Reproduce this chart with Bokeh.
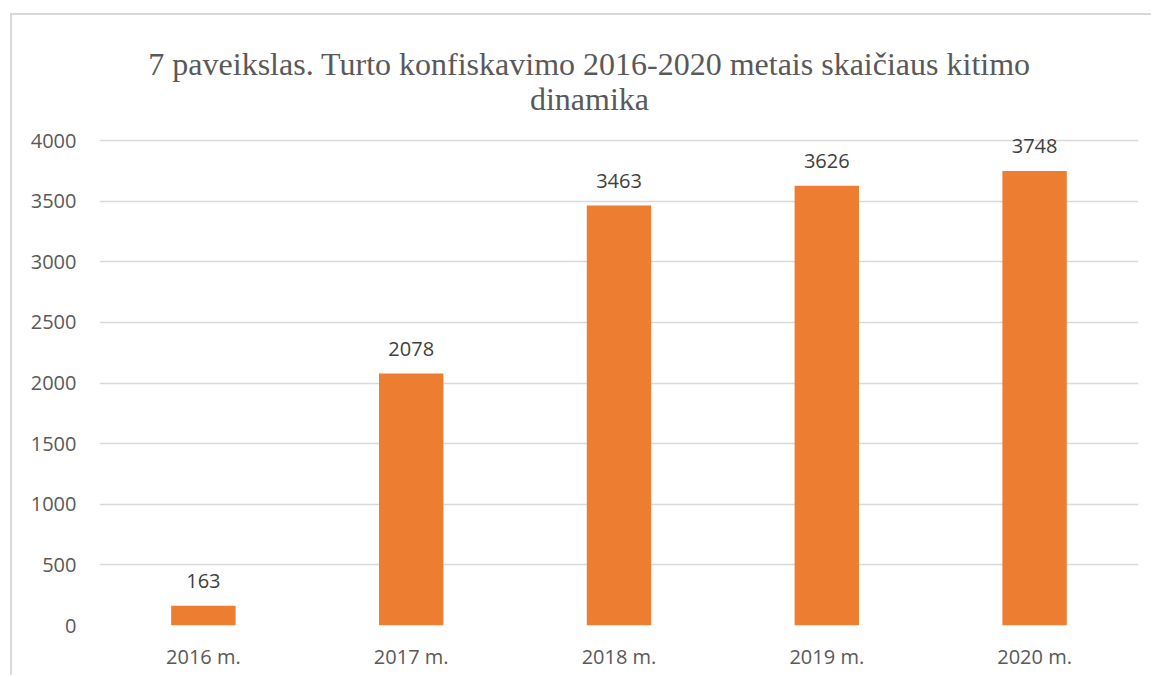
from bokeh.plotting import figure
from bokeh.models import Range1d, FactorRange, FixedTicker, Label, ColumnDataSource
from bokeh.core.properties import value
from bokeh.embed import file_html
from bokeh.resources import INLINE

years = ["2016 m.", "2017 m.", "2018 m.", "2019 m.", "2020 m."]
counts = [163, 2078, 3463, 3626, 3748]
y_ticks = [0, 500, 1000, 1500, 2000, 2500, 3000, 3500, 4000]
title_lines = ["7 paveikslas. Turto konfiskavimo 2016-2020 metais skaičiaus kitimo", "dinamika"]

src = ColumnDataSource(dict(x=years, y=counts, t=[str(c) for c in counts]))

# the frame is extended above the top tick so the title and labels sit inside it
y_view_max = 4000 * 610 / 485

p = figure(width=1141, height=662, output_backend="svg", toolbar_location=None,
           x_range=FactorRange(factors=years), y_range=Range1d(0, y_view_max),
           min_border_left=87, min_border_right=15, min_border_top=0, min_border_bottom=52)
p.styles = {"margin-left": "10px", "margin-top": "13px",
            "border-left": "2px solid #d9d9d9", "border-top": "2px solid #d9d9d9"}
p.outline_line_color = None
p.background_fill_color = "white"
p.border_fill_color = "white"

p.vbar(x="x", top="y", width=0.31, source=src, fill_color="#ED7D31", line_color=None)
p.text(x="x", y="y", text="t", source=src, text_align="center", text_baseline="middle",
       y_offset=-25, text_font=value("Open Sans"), text_font_size="20px", text_color="#404040")

p.yaxis.ticker = FixedTicker(ticks=y_ticks)
p.ygrid.ticker = FixedTicker(ticks=y_ticks)
p.xgrid.grid_line_color = None
p.ygrid.grid_line_color = "#d9d9d9"
p.ygrid.grid_line_width = 1.5

for ax in (p.xaxis, p.yaxis):
    ax.axis_line_color = None
    ax.major_tick_line_color = None
    ax.minor_tick_line_color = None
    ax.major_label_text_font = "Open Sans"
    ax.major_label_text_font_size = "20px"
    ax.major_label_text_color = "#595959"
p.yaxis.major_label_standoff = 17
p.xaxis.major_label_standoff = 11

cx = len(years) / 2
for line, off in zip(title_lines, [77, 42]):
    p.add_layout(Label(x=cx, y=4000, x_offset=-29.5, y_offset=off, text=line,
                       text_align="center", text_baseline="alphabetic",
                       text_font="Liberation Serif", text_font_size="32px",
                       text_color="#595959"))

open("out.html", "w").write(file_html(p, INLINE))
